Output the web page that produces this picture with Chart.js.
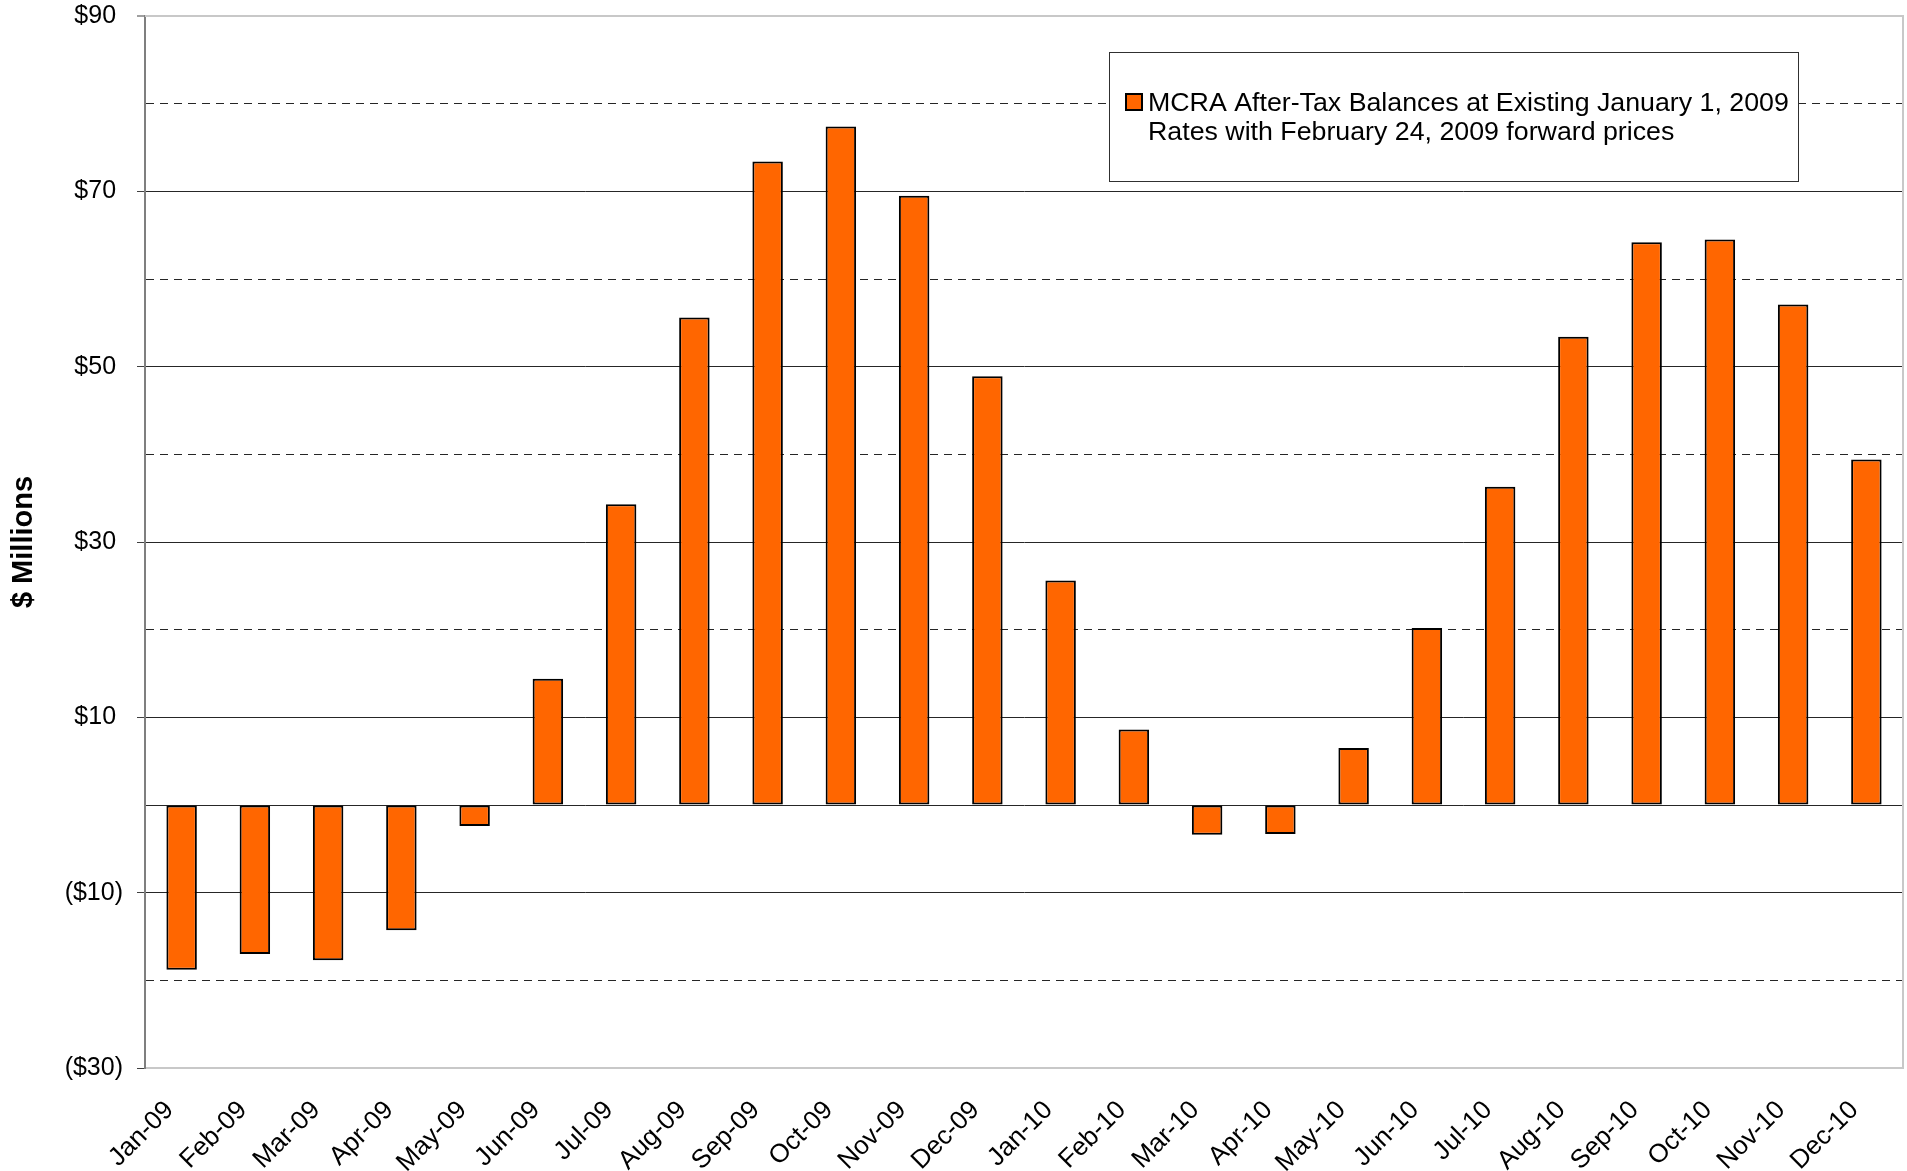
<!DOCTYPE html>
<html>
<head>
<meta charset="utf-8">
<title>MCRA After-Tax Balances</title>
<script src="https://cdn.jsdelivr.net/npm/chart.js@4.4.1/dist/chart.umd.min.js"></script>
<style>
  html, body { margin: 0; padding: 0; background: #ffffff; }
  #wrap { width: 1907px; height: 1171px; position: relative; }
</style>
</head>
<body>
<div id="wrap"><canvas id="chart" width="1907" height="1171"></canvas></div>
<script>
// Monthly categories on the x axis
const months = [
  'Jan-09', 'Feb-09', 'Mar-09', 'Apr-09', 'May-09', 'Jun-09',
  'Jul-09', 'Aug-09', 'Sep-09', 'Oct-09', 'Nov-09', 'Dec-09',
  'Jan-10', 'Feb-10', 'Mar-10', 'Apr-10', 'May-10', 'Jun-10',
  'Jul-10', 'Aug-10', 'Sep-10', 'Oct-10', 'Nov-10', 'Dec-10'
];

// After-tax balance per month, $ millions
const balances = [
  -18.8, -17.0, -17.7, -14.3, -2.4, 14.4,
  34.3, 55.6, 73.4, 77.4, 69.5, 48.9,
  25.6, 8.6, -3.4, -3.3, 6.5, 20.2,
  36.3, 53.4, 64.2, 64.5, 57.1, 39.4
];

// Series name, split over two legend lines
const seriesLabel = [
  'MCRA After-Tax Balances at Existing January 1, 2009',
  'Rates with February 24, 2009 forward prices'
];

// Value axis: range, step and the values that carry a label
const yMin = -30;
const yMax = 90;
const yStep = 10;
const yLabelled = [-30, -10, 10, 30, 50, 70, 90];

const FONT = '"Liberation Sans", Arial, Helvetica, sans-serif';
Chart.defaults.font.family = FONT;
Chart.defaults.color = '#000000';

// Accounting style: negatives in parentheses, positives keep room for the ")"
const money = v => (v < 0 ? '($' + Math.abs(v) + ')' : '$' + v + ' ');
const isLabelled = v => yLabelled.includes(v);

// Light grey frame on the top and right of the plot area
const plotFrame = {
  id: 'plotFrame',
  beforeDatasetsDraw(chart) {
    const { ctx, chartArea: a } = chart;
    ctx.save();
    ctx.strokeStyle = '#c8c8c8';
    ctx.lineWidth = 2;
    ctx.beginPath();
    ctx.moveTo(a.left, a.top);
    ctx.lineTo(a.right, a.top);
    ctx.lineTo(a.right, a.bottom);
    ctx.stroke();
    ctx.restore();
  }
};

// Boxed legend with a two-line series name
const boxLegend = {
  id: 'boxLegend',
  afterDatasetsDraw(chart) {
    const { ctx } = chart;
    const ds = chart.data.datasets[0];
    const bx = 1109, by = 52, bw = 690, bh = 130;
    ctx.save();
    ctx.fillStyle = '#ffffff';
    ctx.fillRect(bx, by, bw, bh);
    ctx.strokeStyle = '#303030';
    ctx.lineWidth = 1;
    ctx.strokeRect(bx + 0.5, by + 0.5, bw - 1, bh - 1);

    ctx.fillStyle = ds.backgroundColor;
    ctx.fillRect(1126, 94, 16, 16);
    ctx.strokeStyle = '#000000';
    ctx.lineWidth = 2;
    ctx.strokeRect(1126, 94, 16, 16);

    ctx.fillStyle = '#000000';
    ctx.font = '25px ' + FONT;
    ctx.textBaseline = 'alphabetic';
    ctx.textAlign = 'left';
    const lines = Array.isArray(ds.label) ? ds.label : [ds.label];
    // slightly wide lettering
    ctx.translate(1148, 0);
    ctx.scale(1.07, 1);
    lines.forEach((t, i) => ctx.fillText(t, 0, 111 + i * 28.5));
    ctx.restore();
  }
};

new Chart(document.getElementById('chart'), {
  type: 'bar',
  data: {
    labels: months,
    datasets: [{
      label: seriesLabel,
      data: balances,
      backgroundColor: '#ff6600',
      borderColor: '#000000',
      borderWidth: 2,
      borderSkipped: false,
      categoryPercentage: 1.0,
      barPercentage: 0.416
    }]
  },
  options: {
    responsive: false,
    animation: false,
    events: [],
    layout: { padding: { top: 16, right: 4, bottom: 0, left: 0 } },
    plugins: {
      legend: { display: false },
      tooltip: { enabled: false },
      title: { display: false }
    },
    scales: {
      x: {
        grid: { display: false },
        border: { display: true, color: '#c8c8c8', width: 2 },
        ticks: {
          autoSkip: false,
          minRotation: 45,
          maxRotation: 45,
          padding: 19,
          labelOffset: -12,
          color: '#000000',
          font: { size: 26 }
        },
        afterFit(scale) {
          scale.height = 103;
          scale.paddingLeft = 0;
          scale.paddingRight = 0;
        }
      },
      y: {
        min: yMin,
        max: yMax,
        ticks: {
          stepSize: yStep,
          padding: 14,
          color: '#000000',
          font: { size: 25 },
          callback: v => (isLabelled(v) ? money(v) : '')
        },
        grid: {
          color: ctx => {
            const v = ctx.tick ? ctx.tick.value : null;
            if (v === yMin) return 'rgba(0,0,0,0)';
            if (v === yMax) return '#c8c8c8';
            return '#262626';
          },
          lineWidth: ctx => (ctx.tick && ctx.tick.value === yMax ? 2 : 1),
          tickLength: 8,
          tickWidth: 1,
          tickColor: ctx => (ctx.tick && isLabelled(ctx.tick.value) ? '#404040' : 'rgba(0,0,0,0)'),
          tickBorderDash: []
        },
        border: {
          display: true,
          color: '#7f7f7f',
          width: 2,
          dash: ctx => {
            if (!ctx.tick) return [];
            const v = ctx.tick.value;
            return (!isLabelled(v) && v !== 0) ? [8, 6] : [];
          }
        },
        title: {
          display: true,
          text: '$ Millions',
          color: '#000000',
          font: { size: 29, weight: 'bold' },
          padding: { top: 7, bottom: 0 }
        },
        afterFit(scale) {
          scale.width = 145;
          scale.paddingTop = 0;
          scale.paddingBottom = 0;
        }
      }
    }
  },
  plugins: [plotFrame, boxLegend]
});
</script>
</body>
</html>
